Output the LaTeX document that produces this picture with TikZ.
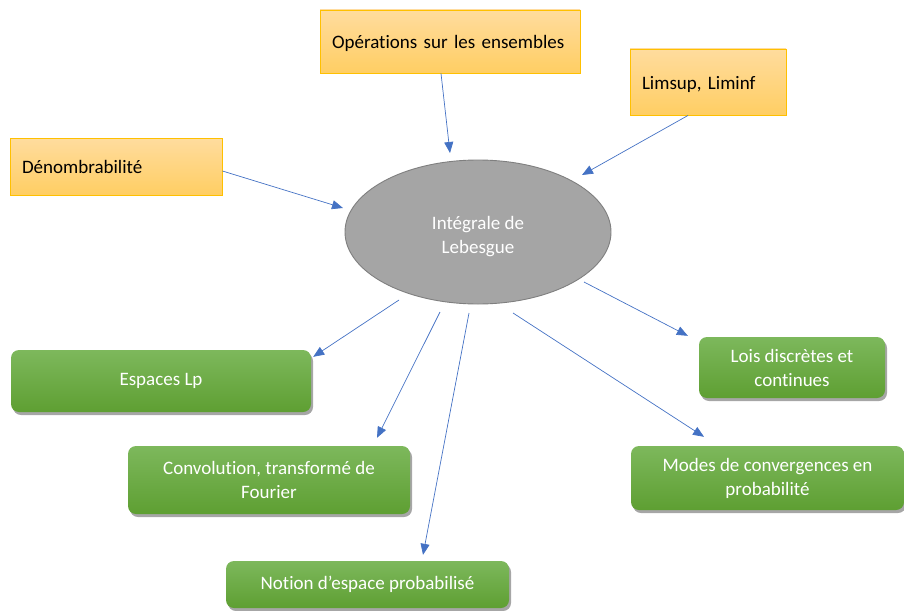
\documentclass[tikz,border=0pt]{standalone}
\usepackage{fontspec}
\setmainfont{Carlito}[Ligatures=NoCommon]
\usetikzlibrary{shapes.geometric,arrows.meta,shadows}
\definecolor{orTop}{HTML}{FFDC9E}
\definecolor{orBot}{HTML}{FFCE63}
\definecolor{orLine}{HTML}{FFC000}
\definecolor{grTop}{HTML}{7DB85C}
\definecolor{grBot}{HTML}{5E9F32}
\definecolor{ellFill}{HTML}{A5A5A5}
\definecolor{ellLine}{HTML}{7F7F7F}
\definecolor{arrBlue}{HTML}{4472C4}
\begin{document}
\begin{tikzpicture}[x=1pt,y=-1pt,
  every node/.style={font=\fontsize{19}{24}\selectfont},
  obox/.style={draw=orLine,line width=0.9pt,top color=orTop,bottom color=orBot,
    rectangle,align=left,inner xsep=12pt,inner ysep=0pt,text=black,
    text height=18pt,text depth=4pt},
  gbox/.style={rectangle,rounded corners=8pt,top color=grTop,bottom color=grBot,
    draw=none,text=white,align=center,inner sep=0pt,
    drop shadow={shadow xshift=2pt,shadow yshift=-3pt,opacity=0.35,fill=black}},
  arr/.style={draw=arrBlue,line width=0.7pt,-{Triangle[length=11pt,width=9pt]},arrBlue}]
\useasboundingbox (0,0) rectangle (904,610);
% top boxes
\node[obox,text width=236pt,minimum height=63pt] (ops) at (450,41.5) {Opérations sur les ensembles};
\node[obox,text width=132pt,minimum height=66pt] (lim) at (708,82) {Limsup, Liminf};
\node[obox,text width=188pt,minimum height=57pt] (den) at (116,166.5) {Dénombrabilité};
% ellipse
\node[ellipse,draw=ellLine,line width=0.9pt,fill=ellFill,
  minimum width=266pt,minimum height=144pt,inner sep=0pt,
  label={[text=white,align=center,yshift=-5pt]center:Intégrale de\\Lebesgue}] (ell) at (478,232) {};
% green boxes
\node[gbox,minimum width=300pt,minimum height=62pt] (esp) at (161,381) {Espaces Lp};
\node[gbox,minimum width=282pt,minimum height=68pt] (conv) at (269,480) {Convolution, transformé de\\Fourier};
\node[gbox,minimum width=283pt,minimum height=47pt] (notion) at (367.5,584.5) {Notion d’espace probabilisé};
\node[gbox,minimum width=186pt,minimum height=61pt] (lois) at (792,367.5) {Lois discrètes et\\continues};
\node[gbox,minimum width=273pt,minimum height=64pt] (modes) at (767.5,478) {Modes de convergences en\\probabilité};
% arrows in
\draw[arr] ([shift={(-9,0)}]ops.south) -- ([shift={(-28,-79)}]ell.center);
\draw[arr] ([shift={(-20,0)}]lim.south) -- ([shift={(104,-57)}]ell.center);
\draw[arr] ([shift={(0,4.5)}]den.east) -- ([shift={(-135,-24)}]ell.center);
% arrows out
\draw[arr] ([shift={(-79,68)}]ell.center) -- ([shift={(2,7)}]esp.north east);
\draw[arr] ([shift={(-38,80)}]ell.center) -- ([shift={(108,-8)}]conv.north);
\draw[arr] ([shift={(-9,81)}]ell.center) -- ([shift={(55.5,-6)}]notion.north);
\draw[arr] ([shift={(35,81)}]ell.center) -- ([shift={(-63.5,-9)}]modes.north);
\draw[arr] ([shift={(106,50)}]ell.center) -- ([shift={(-11,-1)}]lois.north west);
\end{tikzpicture}
\end{document}
